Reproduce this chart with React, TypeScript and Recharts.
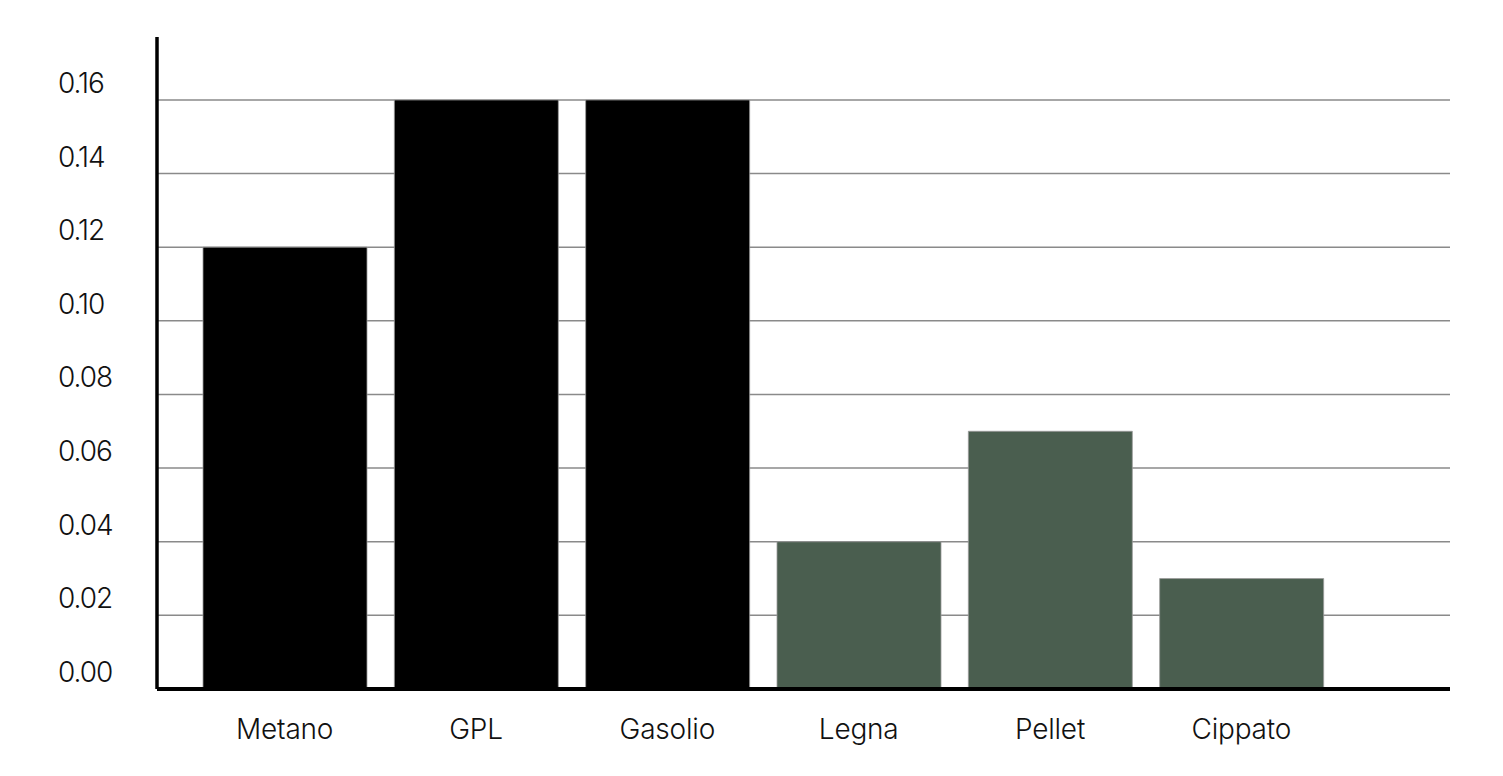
import React from 'react';
import { BarChart, Bar, XAxis, YAxis, CartesianGrid, Cell } from 'recharts';

// ── Data ──────────────────────────────────────────────────────

const CATEGORIES = ['Metano', 'GPL', 'Gasolio', 'Legna', 'Pellet', 'Cippato'];
const VALUES = [0.12, 0.16, 0.16, 0.04, 0.07, 0.03];
const FUEL_KIND = ['fossil', 'fossil', 'fossil', 'bio', 'bio', 'bio'];
const Y_TICKS = [0, 0.02, 0.04, 0.06, 0.08, 0.1, 0.12, 0.14, 0.16];

const COLORS: Record<string, string> = {
    fossil: '#000000',
    bio: '#4a5e4f',
};

const FONT = 'Inter, "Liberation Sans", Arial, sans-serif';

const data = CATEGORIES.map((name, i) => ({ name, value: VALUES[i], kind: FUEL_KIND[i] }));

// ── Ticks ─────────────────────────────────────────────────────

const YTick = ({ y, payload }: any) => (
    <text x={58} y={y - 7} textAnchor="start" fontFamily={FONT} fontWeight={300} fontSize={28} letterSpacing={-1} fill="#111">
        {Number(payload.value).toFixed(2)}
    </text>
);

const XTick = ({ x, y, payload }: any) => (
    <text x={x} y={y + 50} textAnchor="middle" fontFamily={FONT} fontWeight={300} fontSize={28} letterSpacing={-0.2} fill="#111">
        {payload.value}
    </text>
);

// ── Component ─────────────────────────────────────────────────

export default function App() {
    return (
        <div style={{ position: 'absolute', left: 0, top: 0, width: 1503, height: 776, background: '#fff' }}>
            <BarChart
                width={1503}
                height={776}
                data={data}
                margin={{ top: 37, right: 53, bottom: 0, left: 57 }}
            >
                <CartesianGrid vertical={false} horizontalValues={Y_TICKS} stroke="#8a8a8a" strokeWidth={1.5} />
                <XAxis
                    dataKey="name"
                    padding={{ left: 32, right: 113 }}
                    axisLine={{ stroke: '#000', strokeWidth: 4 }}
                    tickLine={false}
                    tickSize={0}
                    tickMargin={0}
                    height={87}
                    tick={<XTick />}
                    interval={0}
                />
                <YAxis
                    type="number"
                    domain={[0, 0.1771]}
                    ticks={Y_TICKS}
                    width={100}
                    axisLine={{ stroke: '#000', strokeWidth: 3.5 }}
                    tickLine={false}
                    tick={<YTick />}
                    interval={0}
                    allowDataOverflow
                />
                <Bar dataKey="value" barSize={164} isAnimationActive={false} stroke="#9a9a9a" strokeWidth={0.8}>
                    {data.map((d, i) => (
                        <Cell key={i} fill={COLORS[d.kind]} />
                    ))}
                </Bar>
            </BarChart>
        </div>
    );
}
